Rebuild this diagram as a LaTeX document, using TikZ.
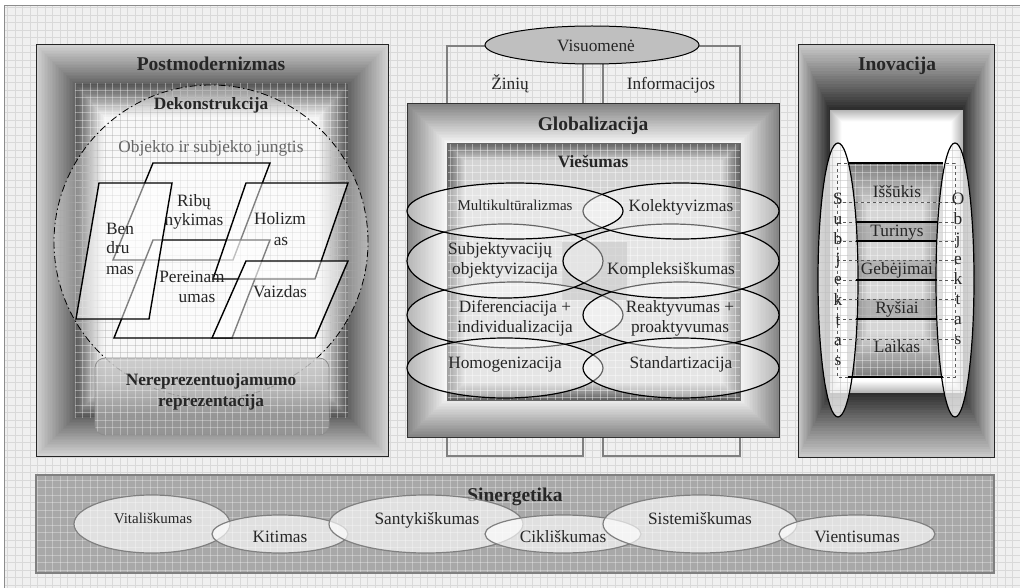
\documentclass[tikz,border=0pt]{standalone}
\usepackage{fontspec}
\setmainfont{Liberation Serif}
\usetikzlibrary{shapes.geometric}
\newcommand\bevelrect[8]{%
  \foreach \i in {0,...,24}{%
    \pgfmathsetmacro\fx{#5*\i/25}%
    \pgfmathsetmacro\fy{#6*\i/25}%
    \pgfmathsetmacro\pc{#7+(#8-#7)*\i/24}%
    \fill[black!\pc] ({#1+\fx},{#2+\fy}) rectangle ({#3-\fx},{#4-\fy});%
  }}
\newcommand\gridlines[1]{%
  \foreach \gx in {0,7.5,...,1020}{\draw[#1] (\gx,0) -- (\gx,588);}%
  \foreach \gy in {0,7.5,...,588}{\draw[#1] (0,\gy) -- (1020,\gy);}}
\tikzset{
 lbl/.style={font=\fontsize{17.3}{20}\selectfont, text height=11.8pt, text depth=3.6pt, inner sep=0pt, text=black!85},
 lsm/.style={lbl, font=\fontsize{15}{18}\selectfont, text height=10.2pt, text depth=3.1pt},
 ttl/.style={lbl, font=\fontsize{19.5}{22}\selectfont\bfseries, text height=13.3pt, text depth=4pt},
 sub/.style={lbl, font=\fontsize{17.3}{20}\selectfont\bfseries},
 par/.style={draw=black, line width=1.4pt, fill=white, fill opacity=0.5, line join=miter},
 gell/.style={ellipse, draw=black, line width=1.2pt, fill=white, fill opacity=0.4, inner sep=0pt},
 sell/.style={ellipse, draw=black!50, line width=1.2pt, fill=white, fill opacity=0.65, inner sep=0pt},
 iell/.style={ellipse, draw=black, line width=1.2pt, fill=white, fill opacity=0.75, inner sep=0pt},
 frameln/.style={draw=black!50, line width=1.2pt},
 rung/.style={draw=black, line width=1.2pt},
 dline/.style={draw=black!65, line width=0.7pt, dashed},
}
\begin{document}
\begin{tikzpicture}[x=1pt,y=-1pt]
\useasboundingbox (0,0) rectangle (1020,588);
\fill[white] (0,0) rectangle (1020,588);
\fill[black!6] (4,6) rectangle (1020,588);
\begin{scope}\clip (4,6) rectangle (1020,588); \gridlines{black!15, line width=0.5pt}\end{scope}
\draw[black!45, line width=1pt] (4,588) -- (4,6) -- (1020,6);

% ---------- Globalizacija background frame lines
\draw[frameln] (447,46) rectangle (583,456);
\draw[frameln] (603,46) rectangle (740,456);
\node[ellipse, draw=black, line width=1pt, fill=black!25, minimum width=214pt, minimum height=38pt, inner sep=0pt] (vis) at (592,45) {};
\node[lbl] (tvis) at (596,47) {Visuomenė};
\node[lbl] (tzin) at (510,85) {Žinių};
\node[lbl] (tinf) at (671,85) {Informacijos};

% ---------- Postmodernizmas
\bevelrect{36}{45}{388}{456}{39}{39}{18}{60}
\bevelrect{75}{84}{348}{417}{30}{34}{66}{4}
\begin{scope}\clip (75,84) rectangle (348,417); \gridlines{white, opacity=0.35, line width=0.6pt}\end{scope}
\draw[black!85, line width=1pt] (36,45) rectangle (388,456);
\fill[white, opacity=0.3] (211,242) circle[radius=157pt];
\begin{scope}\clip (211,242) circle[radius=157pt]; \gridlines{black!35, opacity=0.4, line width=0.5pt}\end{scope}
\draw[black, line width=0.8pt, dash pattern=on 7pt off 3pt on 1.5pt off 3pt] (211,242) circle[radius=157pt];
\node[ttl] (tpm) at (211,66) {Postmodernizmas};
\node[sub] (tdk) at (211,105) {Dekonstrukcija};
\node[lbl, text=black!60] (toj) at (211,148) {Objekto ir subjekto jungtis};

\draw[par] (153,163) -- (270,163) -- (233,260) -- (113,260) -- cycle;
\draw[par] (153,240) -- (270,240) -- (232,338) -- (114,338) -- cycle;
\draw[par] (246,183) -- (348,183) -- (315,279) -- (213,279) -- cycle;
\draw[par] (99,183) -- (172,183) -- (149,319) -- (76,319) -- cycle;
\draw[par] (246,261) -- (348,261) -- (315,338) -- (212,338) -- cycle;

\node[lbl] (b1) at (120,230) {Ben};
\node[lbl] (b2) at (118,249) {dru};
\node[lbl] (b3) at (120,270) {mas};
\node[lbl] (r1) at (194,202) {Ribų};
\node[lbl] (r2) at (194,221) {nykimas};
\node[lbl] (h1) at (280,220) {Holizm};
\node[lbl] (h2) at (281,241) {as};
\node[lbl] (p1) at (192,278) {Pereinam};
\node[lbl] (p2) at (197,298) {umas};
\node[lbl] (vz) at (280,293) {Vaizdas};

\node[draw=black!45, line width=0.8pt, rounded corners=10pt, minimum width=234pt, minimum height=77pt, top color=black!22, bottom color=black!42, fill opacity=0.85, inner sep=0pt] (nr) at (212,396.5) {};
\begin{scope}\clip[rounded corners=10pt] (95,358) rectangle (329,435); \gridlines{white, opacity=0.3, line width=0.5pt}\end{scope}
\node[sub] (nr1) at (211,381) {Nereprezentuojamumo};
\node[sub] (nr2) at (211,402) {reprezentacija};

% ---------- Globalizacija
\bevelrect{407}{104}{779}{437}{40}{39}{48}{5}
\bevelrect{447}{143}{740}{400}{18}{18}{62}{17}
\begin{scope}\clip (447,143) rectangle (740,400); \gridlines{white, opacity=0.4, line width=0.6pt}\end{scope}
\fill[black!40, opacity=0.5] (562,242) rectangle (627,300);
\draw[black!60, line width=0.8pt] (447,143) rectangle (740,400);
\draw[black!80, line width=1pt] (407,104) rectangle (779,437);
\node[ttl] (tgl) at (593,126) {Globalizacija};
\node[sub] (tvi) at (593,163) {Viešumas};

\node[gell, minimum width=216pt, minimum height=66pt] (e3l) at (515,315) {};
\node[gell, minimum width=196pt, minimum height=66pt] (e3r) at (681,315) {};
\node[gell, minimum width=196pt, minimum height=60pt] (e4l) at (505,368) {};
\node[gell, minimum width=196pt, minimum height=60pt] (e4r) at (681,368) {};
\node[gell, minimum width=196pt, minimum height=74pt] (e2l) at (505,261) {};
\node[gell, minimum width=216pt, minimum height=74pt] (e2r) at (671,261) {};
\node[gell, minimum width=196pt, minimum height=56pt] (e1r) at (681,211) {};
\node[gell, minimum width=216pt, minimum height=56pt] (e1l) at (515,211) {};

\node[lsm] (tmk) at (515,207) {Multikultūralizmas};
\node[lbl] (tko) at (681,207) {Kolektyvizmas};
\node[lbl] (tsu1) at (500,250) {Subjektyvacijų};
\node[lbl] (tsu2) at (505,270) {objektyvizacija};
\node[lbl] (tkp) at (671,270) {Kompleksiškumas};
\node[lbl] (tdf1) at (515,308) {Diferenciacija +};
\node[lbl] (tdf2) at (515,328) {individualizacija};
\node[lbl] (tra1) at (680,308) {Reaktyvumas +};
\node[lbl] (tra2) at (680,328) {proaktyvumas};
\node[lbl] (thg) at (505,364) {Homogenizacija};
\node[lbl] (tst) at (681,364) {Standartizacija};

% ---------- Inovacija
\bevelrect{798}{45}{994}{457}{32}{65}{22}{82}
\bevelrect{830}{110}{963}{393}{12}{12}{30}{0}
\bevelrect{848}{163}{943}{377}{20}{45}{50}{16}
\begin{scope}\clip (848,163) rectangle (943,377); \gridlines{white, opacity=0.35, line width=0.6pt}\end{scope}
\fill[black!45, opacity=0.5] (856,222) rectangle (937,241);
\fill[black!45, opacity=0.5] (856,260) rectangle (937,280);
\fill[black!45, opacity=0.5] (856,299) rectangle (937,319);
\draw[black!85, line width=1pt] (798,45) rectangle (994,457);
\node[ttl] (tin) at (897,66) {Inovacija};

\node[iell, minimum width=40pt, minimum height=274pt] (subj) at (838,280) {};
\node[iell, minimum width=38pt, minimum height=274pt] (obj) at (955,280) {};
\begin{scope}\clip (838,280) ellipse[x radius=19, y radius=136]; \gridlines{black!25, opacity=0.5, line width=0.5pt}\end{scope}
\begin{scope}\clip (955,280) ellipse[x radius=18, y radius=136]; \gridlines{black!25, opacity=0.5, line width=0.5pt}\end{scope}

\draw[dline] (837,163) rectangle (955,377);
\foreach \yy in {202,222,241,260,280,299,319,339}{\draw[dline] (837,\yy) -- (955,\yy);}
\draw[rung] (848,163) -- (943,163);
\draw[rung] (848,377) -- (943,377);
\foreach \yy in {222,241,280,319}{\draw[rung] (856,\yy) -- (937,\yy);}

\node[lbl] (li1) at (897,193) {Iššūkis};
\node[lbl] (li2) at (897,232) {Turinys};
\node[lbl] (li3) at (897,270) {Gebėjimai};
\node[lbl] (li4) at (897,309) {Ryšiai};
\node[lbl] (li5) at (897,348) {Laikas};

\foreach \ch [count=\k from 0] in {S,u,b,j,e,k,t,a,s}{\node[lbl] (sl\k) at (838,{200+20.2*\k}) {\ch};}
\foreach \ch [count=\k from 0] in {O,b,j,e,k,t,a,s}{\node[lbl] (ol\k) at (958,{200+20*\k}) {\ch};}

% ---------- Sinergetika
\fill[black!34] (36,475) rectangle (994,573);
\begin{scope}\clip (36,475) rectangle (994,573); \gridlines{white, opacity=0.3, line width=0.5pt}\end{scope}
\draw[black!50, line width=1.5pt] (36,475) rectangle (994,573);
\node[ttl] (tsi) at (515,497) {Sinergetika};

\node[sell, minimum width=156pt, minimum height=58pt] (s1) at (152,524) {};
\node[sell, minimum width=136pt, minimum height=38pt] (s2) at (280,534) {};
\node[sell, minimum width=194pt, minimum height=58pt] (s3) at (426,524) {};
\node[sell, minimum width=156pt, minimum height=38pt] (s4) at (563,534) {};
\node[sell, minimum width=194pt, minimum height=58pt] (s5) at (700,524) {};
\node[sell, minimum width=156pt, minimum height=38pt] (s6) at (857,534) {};

\node[lsm] (ts1) at (153,520) {Vitališkumas};
\node[lbl] (ts2) at (280,538) {Kitimas};
\node[lbl] (ts3) at (427,520) {Santykiškumas};
\node[lbl] (ts4) at (563,538) {Cikliškumas};
\node[lbl] (ts5) at (700,520) {Sistemiškumas};
\node[lbl] (ts6) at (857,538) {Vientisumas};
\end{tikzpicture}
\end{document}
